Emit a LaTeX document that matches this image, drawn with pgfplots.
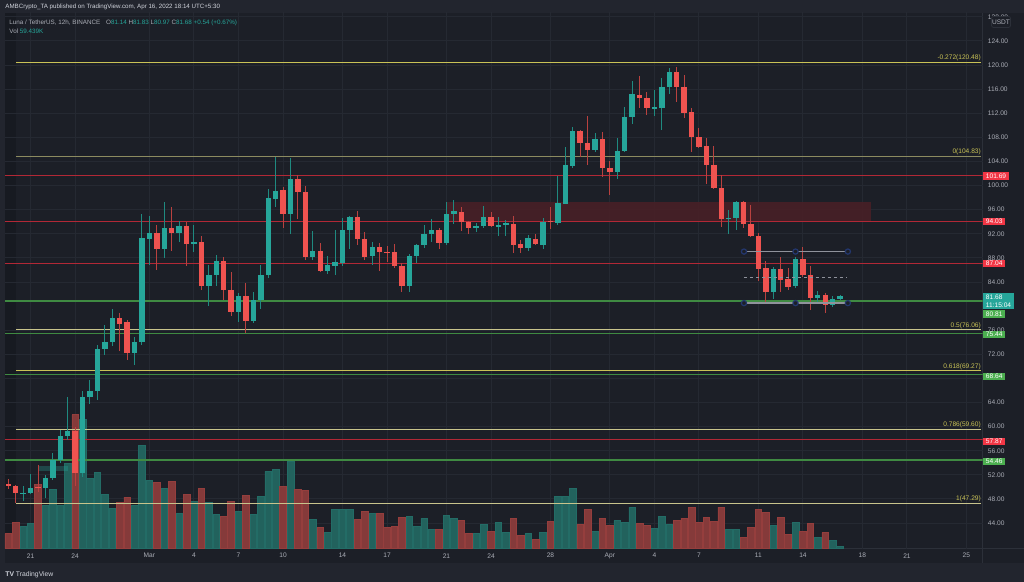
\documentclass[border=0pt]{standalone}
\usepackage{pgfplots}
\pgfplotsset{compat=1.18}
\usepackage{pgfplotstable}
\usepackage{fontspec}
\setmainfont{Liberation Sans}

\definecolor{bg}{HTML}{1C1F27}
\definecolor{strip}{HTML}{22252E}
\definecolor{leftband}{HTML}{171A21}
\definecolor{gridc}{HTML}{252932}
\definecolor{sep}{HTML}{2C3039}
\definecolor{txt}{HTML}{ABAEB7}
\definecolor{hdr}{HTML}{D1D4DC}
\definecolor{up}{HTML}{26A69A}
\definecolor{dn}{HTML}{EF5350}
\definecolor{upw}{HTML}{1F8A80}
\definecolor{dnw}{HTML}{B9413F}
\definecolor{upv}{HTML}{22625D}
\definecolor{dnv}{HTML}{853A3A}
\definecolor{lvred}{RGB}{178,40,54}
\definecolor{lvgreen}{HTML}{3F8A42}
\definecolor{fibY}{HTML}{C9C256}
\definecolor{fibZ}{HTML}{8C8B60}
\definecolor{fibP}{HTML}{C8C48C}
\definecolor{boxred}{HTML}{F23645}
\definecolor{boxgreen}{HTML}{4CAF50}
\definecolor{zone}{HTML}{4A1F26}
\definecolor{tool}{HTML}{8F929B}
\definecolor{toolc}{HTML}{23376E}

\newcommand\lbl{\fontsize{3.3}{3.8}\selectfont}

% 12h candles, index 0 = Feb 19 12:00 ... 112 = Apr 16 00:00
% i open high low close volume(px of bar height)
\pgfplotstableread{
i o h l c v
2 48.9 50.2 47.6 49.05 22
3 49.0 52.1 48.9 49.9 25
5 49.8 52.0 48.2 51.5 43.7
6 51.5 55.7 51.1 54.4 59
7 54.4 59.5 54.0 58.5 43.7
8 58.5 65.0 57.8 59.3 85
10 52.3 66.0 51.7 64.9 129.7
11 64.9 67.8 63.7 65.9 70.7
12 65.9 73.6 64.5 72.9 76.3
13 72.9 76.9 71.9 74.1 54
14 74.0 79.5 73.4 78.0 40.7
17 72.3 74.8 70.3 74.1 43.7
18 74.0 95.3 73.5 91.3 103
19 91.1 94.9 86.9 92.1 68
21 89.5 97.2 88.0 92.9 60.7
23 92.1 94.2 90.6 93.3 35
25 90.4 93.5 89.0 90.7 47.3
27 83.3 86.9 80.1 85.2 46
28 85.1 88.5 83.3 87.5 34
31 79.1 82.2 77.3 81.6 37
33 77.6 82.3 77.2 81.0 34
34 81.0 86.9 79.5 85.2 52.7
35 85.1 99.4 84.7 97.9 77.3
36 97.8 104.8 96.5 99.1 79.7
38 95.3 104.5 92.0 101.1 87.7
41 88.2 92.5 87.6 89.2 29
43 85.9 88.3 85.3 86.9 16.7
44 86.7 92.7 85.2 87.3 39.3
45 87.2 94.7 86.6 92.7 39
46 92.7 95.0 89.5 94.8 39
49 88.3 90.6 86.9 89.8 35
54 83.4 88.7 82.4 88.3 32
55 88.3 90.3 87.2 90.1 22
56 90.1 93.5 89.7 92.0 30.3
57 92.0 94.4 90.6 92.7 19
59 90.4 97.2 90.2 95.3 33.7
60 95.3 97.6 93.7 95.7 30
63 92.9 93.8 92.3 93.3 15.7
64 93.3 96.6 92.9 94.8 24
66 93.2 94.8 91.6 93.5 26
67 93.6 94.3 91.7 93.7 16
70 89.7 91.8 89.2 91.3 15
72 90.2 94.6 89.5 94.0 16.7
74 93.8 101.6 93.4 97.1 52.7
75 97.0 106.4 96.9 103.4 52
76 103.3 109.8 102.9 109.0 60.7
79 105.9 108.7 105.6 107.7 17
82 102.2 107.9 101.1 105.8 28
83 105.8 113.0 105.6 111.4 26.7
84 111.4 117.3 110.2 115.2 41.7
87 112.8 115.8 111.6 113.0 20.3
88 112.9 117.8 109.2 116.4 32.7
89 116.4 119.5 115.2 118.8 24.7
97 94.4 95.9 92.0 94.7 19
98 94.7 97.5 92.7 97.3 19
103 82.3 86.5 81.2 86.1 23
106 83.3 88.1 83.0 87.8 26.3
109 81.4 82.5 80.5 81.8 11.7
111 80.2 81.6 79.9 81.14 8.3
112 81.14 81.83 80.97 81.68 2.3
}\upcandles

\pgfplotstableread{
i o h l c v
0 50.5 51.3 49.6 50.3 15
1 50.2 50.4 47.29 49.0 26.7
4 50.0 53.7 49.2 49.9 64
9 59.3 60.0 50.1 52.3 134
15 78.0 78.8 72.6 77.1 46
16 77.3 77.7 71.0 72.3 51.7
20 92.1 93.5 86.0 89.5 66.3
22 92.9 96.5 89.1 92.1 67.3
24 93.3 94.0 86.7 90.3 54
26 90.7 91.7 82.6 83.3 60
29 87.5 88.2 81.0 82.6 32.7
30 82.7 85.7 78.4 79.0 47
32 81.6 83.8 75.5 77.6 53.7
37 99.2 99.7 92.9 95.3 62.7
39 101.1 101.8 94.4 98.9 59.7
40 98.9 100.0 87.7 88.2 58
42 89.2 90.4 85.6 85.9 21
47 94.8 95.8 90.2 91.2 29
48 91.1 92.3 87.7 88.2 37
50 89.8 90.4 85.9 89.0 35
51 89.0 89.9 87.4 88.9 21
52 89.0 90.3 86.3 86.6 22
53 86.7 87.1 82.4 83.4 31.7
58 92.7 92.9 89.5 90.4 19.3
61 95.6 96.4 92.5 93.9 28
62 94.0 94.2 92.0 92.9 15.7
65 94.8 95.6 93.1 93.3 17.7
68 93.7 94.9 88.8 90.2 30.3
69 90.3 91.0 88.8 89.7 13
71 91.2 92.0 90.1 90.3 9.3
73 94.1 96.5 92.8 94.0 27
77 109.0 109.2 104.8 107.0 24.7
78 107.0 111.6 103.4 105.9 39.7
80 107.7 108.9 101.5 102.9 30
81 102.9 104.1 98.5 102.2 23
85 115.0 118.2 112.8 114.6 25
86 114.6 115.6 111.7 112.8 23
90 118.8 119.6 113.8 116.3 28
91 116.3 118.4 111.2 112.1 30.7
92 112.2 112.9 105.5 108.0 41
93 108.0 109.6 106.2 106.4 26
94 106.5 107.9 100.3 103.4 31.7
95 103.4 106.6 99.4 99.6 27
96 99.6 101.7 93.1 94.4 41.7
99 97.3 97.5 92.9 93.7 11
100 93.7 96.8 91.4 91.7 21
101 91.7 92.1 84.1 86.2 39
102 86.4 87.5 80.6 82.3 36
104 86.1 88.2 82.3 84.4 31.7
105 84.5 86.3 82.7 83.2 14.7
107 87.8 89.8 84.8 85.1 17.7
108 85.1 86.7 79.4 81.3 25.7
110 81.8 82.2 78.8 80.2 16
}\dncandles

\pgfplotsset{
  chartbox/.style={at={(2.5pt,16.5pt)}, anchor=south west, scale only axis,
    width=489pt, height=268.5pt, xmin=-0.444, xmax=131.18},
  wick/.style={draw=none, forget plot, error bars/.cd, y dir=both, y explicit,
    error mark=none, error bar style={draw=#1, line width=0.5pt}},
  body/.style={draw=none, forget plot, error bars/.cd, y dir=both, y explicit,
    error mark=none, error bar style={draw=#1, line width=2.7pt}},
  red level/.style={draw=lvred, line width=0.7pt, forget plot},
  green level/.style={draw=lvgreen, line width=0.75pt, forget plot},
  fib level/.style={draw=#1, line width=0.55pt, forget plot},
}

\begin{document}
\begin{tikzpicture}
% background, in pixel units of the 1024x582 picture
\begin{scope}[x=0.5pt, y=-0.5pt, shift={(0,291pt)}]
  \fill[strip] (0,0) rectangle (1024,582);
  \fill[bg] (5,13) rectangle (1024,563);
  \fill[leftband] (5,13) rectangle (16,549);
  \draw[sep, line width=0.5pt] (983,13) -- (983,563);
  \draw[sep, line width=0.5pt] (5,549) -- (1024,549);
\end{scope}

% grid and tick labels
\begin{axis}[chartbox, ymin=39.75, ymax=128.8,
  axis line style={draw=none}, tick style={draw=none},
  xtick={3,9,19,25,31,37,45,51,59,65,73,81,87,93,101,107,115,121,129},
  xticklabels={21,24,Mar,4,7,10,14,17,21,24,28,Apr,4,7,11,14,18,21,25},
  ytick={44,48,52,56,60,64,68,72,76,84,88,92,96,100,104,108,112,116,120,124,128},
  yticklabel pos=right,
  grid=major, major grid style={gridc, line width=0.5pt},
  /pgf/number format/assume math mode=true,
  /pgf/number format/fixed, /pgf/number format/fixed zerofill,
  /pgf/number format/precision=2,
  tick label style={font=\lbl, text=txt, inner sep=0pt},
  xticklabel style={anchor=center, yshift=-3.5pt},
  yticklabel style={anchor=west, xshift=2.5pt},
]
\addplot[draw=none] coordinates {(0,50)};
\end{axis}

% volume
\begin{axis}[chartbox, ymin=0, ymax=537, hide axis]
\addplot[ybar, bar width=3.3pt, bar shift=0pt, fill=upv, draw=upv!85!up, line width=0.3pt]
  table[x=i, y=v]{\upcandles};
\addplot[ybar, bar width=3.3pt, bar shift=0pt, fill=dnv, draw=dnv!85!dn, line width=0.3pt]
  table[x=i, y=v]{\dncandles};
\end{axis}

% price
\begin{axis}[chartbox, ymin=39.75, ymax=128.8, hide axis, clip mode=individual]
% supply zone
\addplot[draw=none, fill=zone, fill opacity=0.85]
  coordinates {(59.0,94.03) (116.1,94.03) (116.1,97.35) (59.0,97.35)} -- cycle;
% teal marker box near the start
\addplot[draw=none, fill=up, fill opacity=0.3]
  coordinates {(4.0,52.6) (8.0,52.6) (8.0,53.4) (4.0,53.4)} -- cycle;

% horizontal levels
\addplot[red level] coordinates {(-0.444,101.69) (131.18,101.69)};
\addplot[red level] coordinates {(-0.444,94.03) (131.18,94.03)};
\addplot[red level] coordinates {(-0.444,87.04) (131.18,87.04)};
\addplot[red level] coordinates {(-0.444,57.87) (131.18,57.87)};
\addplot[green level] coordinates {(-0.444,80.81) (131.18,80.81)};
\addplot[green level] coordinates {(-0.444,75.44) (131.18,75.44)};
\addplot[green level] coordinates {(-0.444,68.64) (131.18,68.64)};
\addplot[green level] coordinates {(-0.444,54.46) (131.18,54.46)};

% fibonacci levels
\addplot[fib level=fibY] coordinates {(1.04,120.48) (131.0,120.48)};
\addplot[fib level=fibZ] coordinates {(1.04,104.83) (131.0,104.83)};
\addplot[fib level=fibP] coordinates {(1.04,76.06) (131.0,76.06)};
\addplot[fib level=fibY] coordinates {(1.04,69.27) (131.0,69.27)};
\addplot[fib level=fibP] coordinates {(1.04,59.60) (131.0,59.60)};
\addplot[fib level=fibP] coordinates {(1.04,47.29) (131.0,47.29)};

% candles: wicks then bodies
\addplot[wick=upw] table[x=i, y expr={(\thisrow{h}+\thisrow{l})/2},
  y error expr={(\thisrow{h}-\thisrow{l})/2}]{\upcandles};
\addplot[wick=dnw] table[x=i, y expr={(\thisrow{h}+\thisrow{l})/2},
  y error expr={(\thisrow{h}-\thisrow{l})/2}]{\dncandles};
\addplot[body=up] table[x=i, y expr={(\thisrow{o}+\thisrow{c})/2},
  y error expr={max(abs(\thisrow{c}-\thisrow{o})/2,0.09)}]{\upcandles};
\addplot[body=dn] table[x=i, y expr={(\thisrow{o}+\thisrow{c})/2},
  y error expr={max(abs(\thisrow{c}-\thisrow{o})/2,0.09)}]{\dncandles};

% range drawing
\addplot[tool, line width=0.8pt] coordinates {(99.06,89.05) (113.05,89.05)};
\addplot[tool, line width=0.8pt] coordinates {(99.06,80.5) (113.05,80.5)};
\addplot[tool, line width=0.6pt, dash pattern=on 1.5pt off 1.5pt]
  coordinates {(99.06,84.8) (112.8,84.8)};
\addplot[only marks, mark=*, mark size=1.3pt, mark options={draw=toolc, fill=bg, line width=0.6pt}]
  coordinates {(99.06,89.05) (106.0,89.05) (113.05,89.05) (99.06,80.5) (106.0,80.5) (113.05,80.5)};

% fib labels
\begin{scope}[every node/.style={anchor=south east, font=\lbl, text=fibY, inner sep=0pt, yshift=0.5pt}]
\node at (axis cs:131.0,120.48) {-0.272(120.48)};
\node at (axis cs:131.0,104.83) {0(104.83)};
\node at (axis cs:131.0,76.06) {0.5(76.06)};
\node at (axis cs:131.0,69.27) {0.618(69.27)};
\node at (axis cs:131.0,59.60) {0.786(59.60)};
\node at (axis cs:131.0,47.29) {1(47.29)};
\end{scope}

% price boxes on the scale
\begin{scope}[every node/.style={anchor=west, font=\lbl, text=white, inner xsep=1.5pt, inner ysep=0.7pt}]
\node[fill=boxred] at (axis cs:131.18,101.56) {101.69};
\node[fill=boxred] at (axis cs:131.18,94.03) {94.03};
\node[fill=boxred] at (axis cs:131.18,87.04) {87.04};
\node[fill=boxred] at (axis cs:131.18,57.55) {57.87};
\node[fill=boxgreen] at (axis cs:131.18,78.73) {80.81};
\node[fill=boxgreen] at (axis cs:131.18,75.25) {75.44};
\node[fill=boxgreen] at (axis cs:131.18,68.35) {68.64};
\node[fill=boxgreen] at (axis cs:131.18,54.2) {54.46};
\node[fill=up, align=left, anchor=north west, inner ysep=0.8pt] at (axis cs:131.18,82.2) {81.68\\11:15:04};
\end{scope}
\end{axis}

% header, footer and scale caption
\begin{scope}[x=0.5pt, y=-0.5pt, shift={(0,291pt)}]
  \node[anchor=west, inner sep=0pt, font=\fontsize{3.1}{3.8}\selectfont, text=hdr] at (5,7)
    {AMBCrypto\_TA published on TradingView.com, Apr 16, 2022 18:14 UTC+5:30};
  \node[anchor=west, inner sep=0pt, font=\fontsize{3.15}{3.8}\selectfont, text=txt] at (9,22.5)
    {Luna / TetherUS, 12h, BINANCE\hspace{2pt} O\textcolor{up}{81.14} H\textcolor{up}{81.83} L\textcolor{up}{80.97} C\textcolor{up}{81.68} \textcolor{up}{+0.54 (+0.67\%)}};
  \node[anchor=west, inner sep=0pt, font=\fontsize{3.15}{3.8}\selectfont, text=txt] at (9,31)
    {Vol \textcolor{up}{59.439K}};
  \draw[sep, fill=bg, line width=0.4pt, rounded corners=1pt] (992,16.5) rectangle (1011,27.5);
  \node[inner sep=0pt, font=\lbl, text=txt] at (1001.5,22) {USDT};
  \node[anchor=west, inner sep=0pt, font=\fontsize{3.4}{4}\selectfont, text=hdr] at (5,575)
    {\textbf{TV} TradingView};
\end{scope}
\end{tikzpicture}
\end{document}
